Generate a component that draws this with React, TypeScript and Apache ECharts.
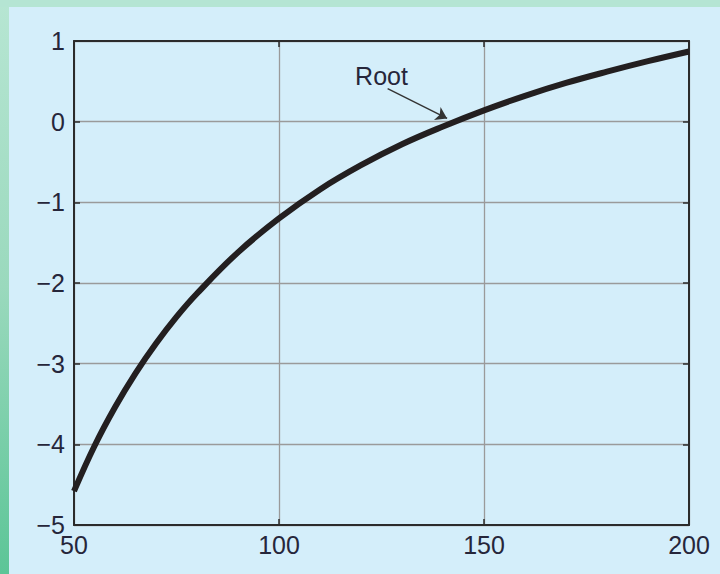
import React, { useEffect, useRef } from "react";
import * as echarts from "echarts";

const massValues = [50, 55, 60, 65, 70, 75, 80, 90, 100, 110, 120, 130, 140, 150, 160, 170, 180, 190, 200];
const fValues = [-4.58, -4.02, -3.54, -3.12, -2.75, -2.42, -2.13, -1.62, -1.2, -0.84, -0.54, -0.28, -0.06, 0.14, 0.32, 0.48, 0.62, 0.75, 0.87];
const xTicks = [50, 100, 150, 200];
const yTicks = [-5, -4, -3, -2, -1, 0, 1];
const rootLabel = "Root";
const rootArrow = [[126.5, 0.41], [141.0, 0.04]];
const rootTextAt = [125.0, 0.57];

const fmtY = (v: number) => (v < 0 ? "\u2212" + Math.abs(v) : String(v));
const FONT = "'Liberation Sans Narrow', 'Arial Narrow', 'Liberation Sans', Arial, sans-serif";

export default function App() {
  const ref = useRef<HTMLDivElement>(null);
  useEffect(() => {
    document.body.style.margin = "0";
    const chart = echarts.init(ref.current!, null, { renderer: "svg" });
    const axisFont = { fontFamily: FONT, fontSize: 25, color: "#26263a" };
    const dark = "#2b2b2b";
    const secondary = {
      axisLine: { show: true, onZero: false, lineStyle: { color: dark, width: 2 } },
      axisTick: { show: true, inside: true, length: 6, lineStyle: { color: dark, width: 1.5 } },
      splitLine: { show: false },
      axisLabel: { show: false },
    };
    chart.setOption({
      animation: false,
      backgroundColor: "transparent",
      grid: { left: 74, right: 31, top: 41, bottom: 49 },
      xAxis: [
        {
          type: "value",
          min: xTicks[0],
          max: xTicks[xTicks.length - 1],
          interval: 50,
          axisLine: { show: true, onZero: false, lineStyle: { color: dark, width: 2 } },
          axisTick: { show: true, inside: true, length: 6, lineStyle: { color: dark, width: 1.5 } },
          splitLine: { show: true, lineStyle: { color: "#9a9a9a", width: 1.3 } },
          axisLabel: { ...axisFont, margin: 7 },
        },
        {
          type: "value",
          position: "top",
          min: xTicks[0],
          max: xTicks[xTicks.length - 1],
          interval: 50,
          ...secondary,
        },
      ],
      yAxis: [
        {
          type: "value",
          min: yTicks[0],
          max: yTicks[yTicks.length - 1],
          interval: 1,
          axisLine: { show: true, onZero: false, lineStyle: { color: dark, width: 2 } },
          axisTick: { show: true, inside: true, length: 6, lineStyle: { color: dark, width: 1.5 } },
          splitLine: { show: true, lineStyle: { color: "#9a9a9a", width: 1.3 } },
          axisLabel: { ...axisFont, margin: 9, formatter: fmtY },
        },
        {
          type: "value",
          position: "right",
          min: yTicks[0],
          max: yTicks[yTicks.length - 1],
          interval: 1,
          ...secondary,
        },
      ],
      series: [
        {
          type: "line",
          data: massValues.map((m, i) => [m, fValues[i]]),
          smooth: 0.4,
          showSymbol: false,
          lineStyle: { color: "#231f20", width: 6, cap: "butt" },
          markLine: {
            silent: true,
            symbol: ["none", "arrow"],
            symbolSize: 11,
            label: { show: false },
            lineStyle: { color: "#333", width: 1.4, type: "solid" },
            data: [[{ coord: rootArrow[0] }, { coord: rootArrow[1] }]],
          },
          markPoint: {
            silent: true,
            symbol: "circle",
            symbolSize: 1,
            itemStyle: { color: "transparent" },
            label: {
              show: true,
              position: "inside",
              formatter: rootLabel,
              fontFamily: FONT,
              fontSize: 25,
              color: "#26263a",
            },
            data: [{ coord: rootTextAt }],
          },
        },
      ],
    });
    return () => chart.dispose();
  }, []);
  return (
    <div
      style={{
        position: "absolute",
        left: 0,
        top: 0,
        width: 720,
        height: 574,
        background: "linear-gradient(to bottom, #b7e6d3 0%, #9ad9bd 50%, #5cc597 100%)",
        overflow: "hidden",
      }}
    >
      <div
        style={{
          position: "absolute",
          left: 9,
          top: 7,
          right: 0,
          bottom: 0,
          background: "#d4eefa",
        }}
      />
      <div
        style={{
          position: "absolute",
          left: 0,
          right: 0,
          top: 0,
          height: 7,
          background: "#b5e5d3",
        }}
      />
      <div ref={ref} style={{ position: "absolute", left: 0, top: 0, width: 720, height: 574 }} />
    </div>
  );
}
